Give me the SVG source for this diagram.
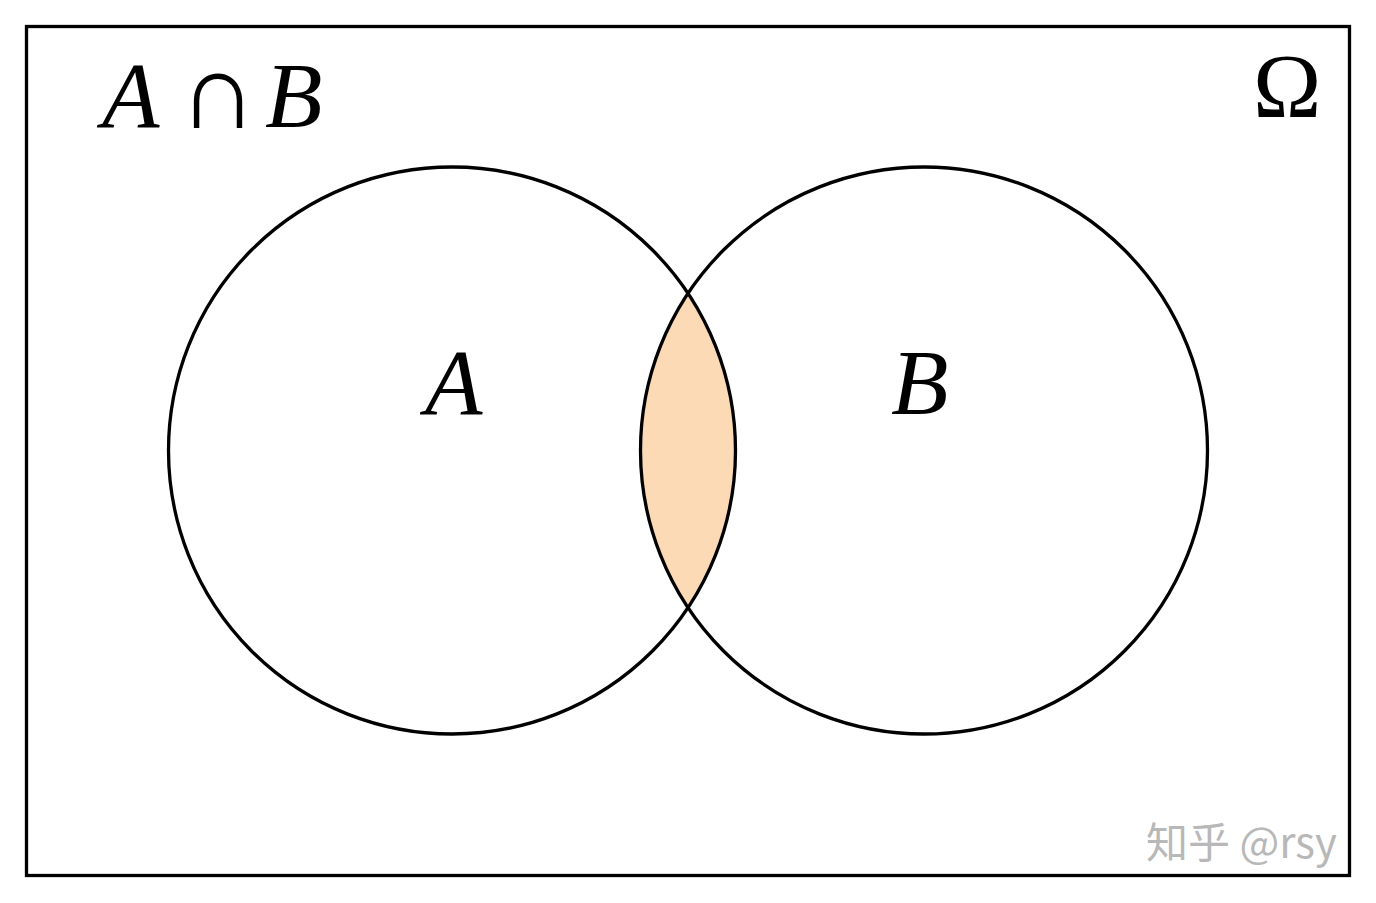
<svg xmlns="http://www.w3.org/2000/svg" width="1376" height="903" viewBox="0 0 1376 903">
<style>
.ln{fill:none;stroke:#000;stroke-width:3.3}
.math{font-family:"Liberation Serif","DejaVu Serif",serif;font-style:italic;font-size:94px;fill:#000}
.up{font-family:"Liberation Serif","DejaVu Serif",serif;font-size:92px;fill:#000}
.cap{font-family:"Liberation Serif","DejaVu Serif",serif;font-size:108px;fill:#000}
.wm{font-family:"Noto Sans CJK SC","Liberation Sans",sans-serif;font-size:42px;fill:#b8b8b8}
</style>
<defs>
<clipPath id="clipA"><circle cx="452" cy="450.5" r="283.5"/></clipPath>
</defs>
<rect width="1376" height="903" fill="#fff"/>
<g id="frame"><rect class="ln" x="26.5" y="26.5" width="1323" height="849"/></g>
<g id="intersection"><circle cx="924" cy="450.5" r="283.5" fill="#fddab6" clip-path="url(#clipA)"/></g>
<g id="circleA"><circle class="ln" cx="452" cy="450.5" r="283.5"/><text class="math" x="425" y="414">A</text></g>
<g id="circleB"><circle class="ln" cx="924" cy="450.5" r="283.5"/><text class="math" x="891" y="414">B</text></g>
<g id="title"><text class="math" x="102" y="127">A</text><text class="cap" x="179" y="128">∩</text><text class="math" x="265" y="127">B</text></g>
<g id="omega"><text class="up" x="1253" y="117">Ω</text></g>
<g id="watermark"><text class="wm" x="1146" y="858">知乎 @rsy</text></g>
</svg>
